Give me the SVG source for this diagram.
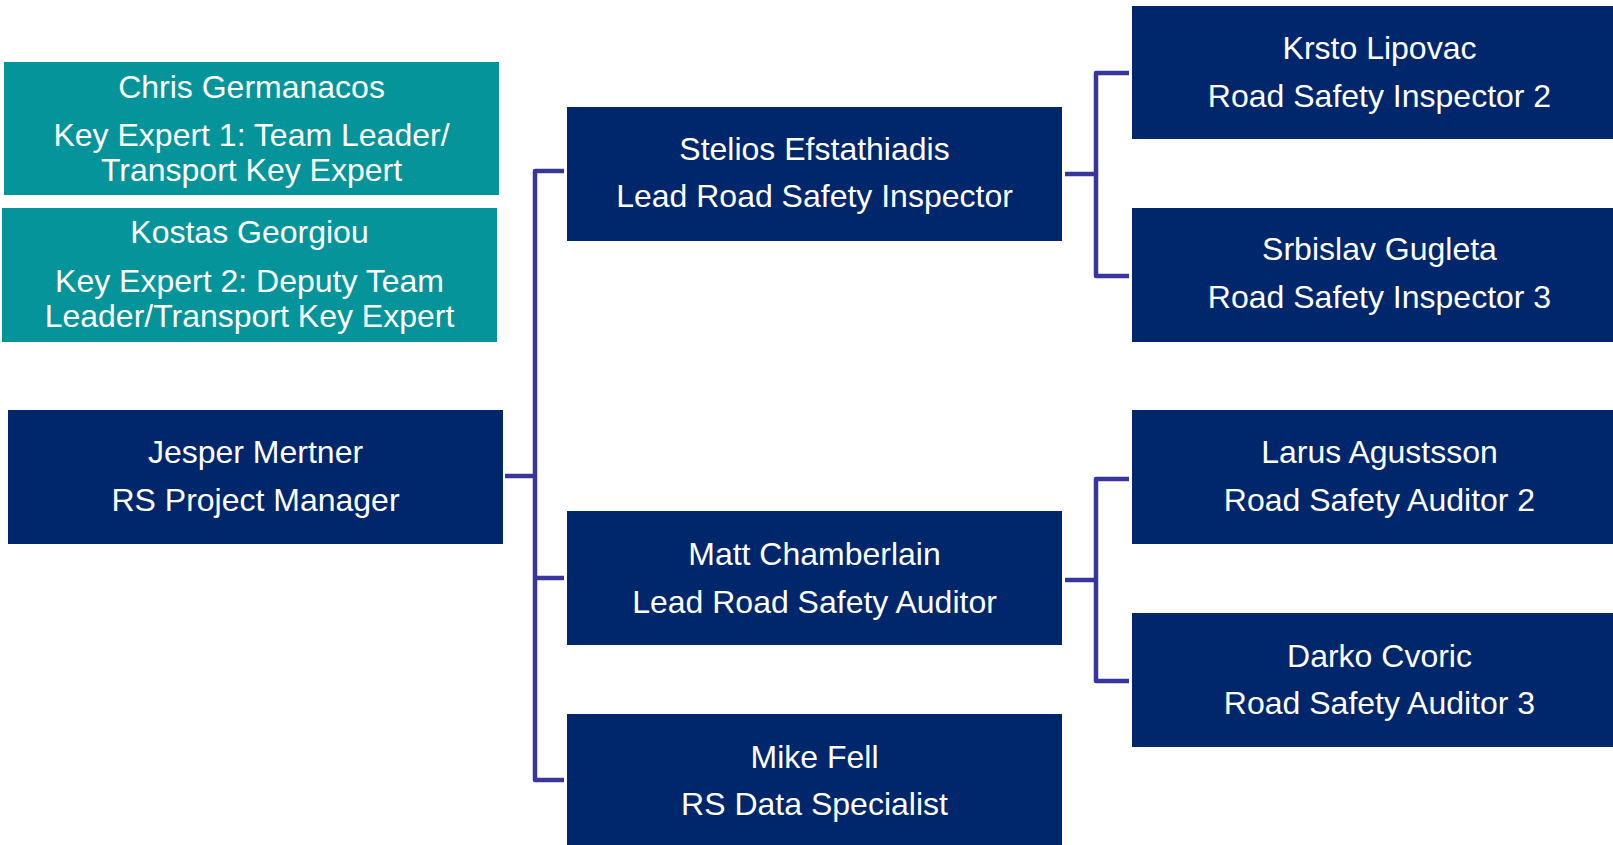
<svg xmlns="http://www.w3.org/2000/svg" width="1613" height="845" viewBox="0 0 1613 845">
<style>
.teal{fill:#06949B}
.navy{fill:#00276C}
.t{font-family:"Liberation Sans",Arial,sans-serif;font-size:32px;fill:#ffffff;text-anchor:middle}
.c{fill:none;stroke:#38359B;stroke-width:4.5;stroke-linejoin:round;stroke-linecap:butt}
</style>
<rect width="1613" height="845" fill="#ffffff"/>
<g id="connectors">
<path class="c" d="M564,171 H535 V780 H564 M535,578 H564 M505,476 H535"/>
<path class="c" d="M1065,174 H1096 M1129,73 H1096 V276 H1129"/>
<path class="c" d="M1065,580 H1096 M1129,479 H1096 V681 H1129"/>
</g>
<g id="chris">
<rect class="teal" x="4" y="62" width="495" height="133"/>
<text class="t" x="251.5" y="98">Chris Germanacos</text>
<text class="t" x="251.5" y="146">Key Expert 1: Team Leader/</text>
<text class="t" x="251.5" y="181">Transport Key Expert</text>
</g>
<g id="kostas">
<rect class="teal" x="2" y="208" width="495" height="134"/>
<text class="t" x="249.5" y="243">Kostas Georgiou</text>
<text class="t" x="249.5" y="292">Key Expert 2: Deputy Team</text>
<text class="t" x="249.5" y="327">Leader/Transport Key Expert</text>
</g>
<g id="jesper">
<rect class="navy" x="8" y="410" width="495" height="134"/>
<text class="t" x="255.5" y="463">Jesper Mertner</text>
<text class="t" x="255.5" y="511">RS Project Manager</text>
</g>
<g id="stelios">
<rect class="navy" x="567" y="107" width="495" height="134"/>
<text class="t" x="814.5" y="160">Stelios Efstathiadis</text>
<text class="t" x="814.5" y="207">Lead Road Safety Inspector</text>
</g>
<g id="matt">
<rect class="navy" x="567" y="511" width="495" height="134"/>
<text class="t" x="814.5" y="565">Matt Chamberlain</text>
<text class="t" x="814.5" y="613">Lead Road Safety Auditor</text>
</g>
<g id="mike">
<rect class="navy" x="567" y="714" width="495" height="134"/>
<text class="t" x="814.5" y="768">Mike Fell</text>
<text class="t" x="814.5" y="815">RS Data Specialist</text>
</g>
<g id="krsto">
<rect class="navy" x="1132" y="6" width="495" height="133"/>
<text class="t" x="1379.5" y="59">Krsto Lipovac</text>
<text class="t" x="1379.5" y="107">Road Safety Inspector 2</text>
</g>
<g id="srbislav">
<rect class="navy" x="1132" y="208" width="495" height="134"/>
<text class="t" x="1379.5" y="260">Srbislav Gugleta</text>
<text class="t" x="1379.5" y="308">Road Safety Inspector 3</text>
</g>
<g id="larus">
<rect class="navy" x="1132" y="410" width="495" height="134"/>
<text class="t" x="1379.5" y="463">Larus Agustsson</text>
<text class="t" x="1379.5" y="511">Road Safety Auditor 2</text>
</g>
<g id="darko">
<rect class="navy" x="1132" y="613" width="495" height="134"/>
<text class="t" x="1379.5" y="667">Darko Cvoric</text>
<text class="t" x="1379.5" y="714">Road Safety Auditor 3</text>
</g>
</svg>
